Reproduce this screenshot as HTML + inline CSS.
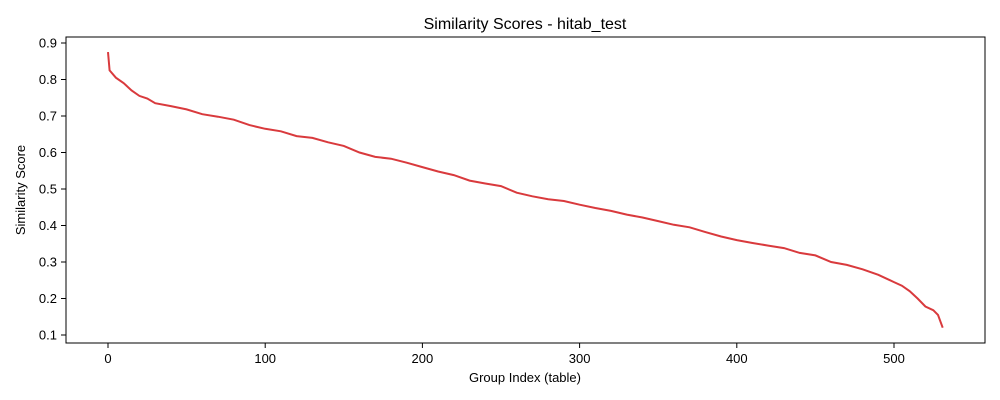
<!DOCTYPE html>
<html><head><meta charset="utf-8"><style>
body{margin:0;background:#fff;}
svg{display:block;font-family:"Liberation Sans","DejaVu Sans",sans-serif;}
</style></head><body>
<svg id="chart" width="1000" height="400" viewBox="0 0 1000 400">
<text x="525" y="29" text-anchor="middle" font-size="16" fill="#000">Similarity Scores - hitab_test</text>
<g id="xticks"></g>
<g id="yticks"></g>
<text x="525" y="382" text-anchor="middle" font-size="13">Group Index (table)</text>
<text transform="translate(25,190) rotate(-90)" text-anchor="middle" font-size="13">Similarity Score</text>
<path id="line" fill="none" stroke="#d93a3d" stroke-width="2"></path>
<rect x="66" y="37" width="919" height="306" fill="none" stroke="#000" stroke-width="1"></rect>
</svg>
<script>
const groupIndex=[0,1,5,10,15,20,25,30,40,50,60,70,80,90,100,110,120,130,140,150,160,170,180,190,200,210,220,230,240,250,260,270,280,290,300,310,320,330,340,350,360,370,380,390,400,410,420,430,440,450,460,470,480,490,500,505,510,515,520,525,528,531];
const scores=[0.875,0.825,0.805,0.79,0.77,0.755,0.748,0.735,0.727,0.718,0.705,0.698,0.69,0.675,0.665,0.658,0.645,0.64,0.628,0.618,0.6,0.588,0.583,0.572,0.56,0.548,0.538,0.523,0.515,0.508,0.49,0.48,0.472,0.467,0.457,0.448,0.44,0.43,0.422,0.412,0.402,0.395,0.382,0.37,0.36,0.352,0.345,0.338,0.325,0.318,0.3,0.292,0.28,0.265,0.245,0.235,0.22,0.2,0.178,0.168,0.155,0.12];
const xTicks=[0,100,200,300,400,500];
const yTicks=[0.1,0.2,0.3,0.4,0.5,0.6,0.7,0.8,0.9];
const X=v=>108+v*1.572;
const Y=v=>43+(0.9-v)*365;
const NS="http://www.w3.org/2000/svg";
const xg=document.getElementById('xticks'),yg=document.getElementById('yticks');
xTicks.forEach(t=>{
 const l=document.createElementNS(NS,'line');
 
 
 l.setAttribute('x1',X(t));l.setAttribute('x2',X(t));l.setAttribute('y1',343);l.setAttribute('y2',348);l.setAttribute('stroke','#000');
 xg.appendChild(l);
 const tx=document.createElementNS(NS,'text');
 
 
 tx.setAttribute('x',X(t));tx.setAttribute('y',363);tx.setAttribute('text-anchor','middle');tx.setAttribute('font-size','13');
 tx.textContent=t;xg.appendChild(tx);
});
yTicks.forEach(t=>{
 const l=document.createElementNS(NS,'line');
 
 
 l.setAttribute('x1',61);l.setAttribute('x2',66);l.setAttribute('y1',Y(t));l.setAttribute('y2',Y(t));l.setAttribute('stroke','#000');
 yg.appendChild(l);
 const tx=document.createElementNS(NS,'text');
 
 
 tx.setAttribute('x',57);tx.setAttribute('y',Y(t)+4.5);tx.setAttribute('text-anchor','end');tx.setAttribute('font-size','13');
 tx.textContent=t.toFixed(1);yg.appendChild(tx);
});
document.getElementById('line').setAttribute('d',groupIndex.map((g,i)=>(i?'L':'M')+X(g).toFixed(1)+','+Y(scores[i]).toFixed(1)).join(''));
</script>
</body></html>
